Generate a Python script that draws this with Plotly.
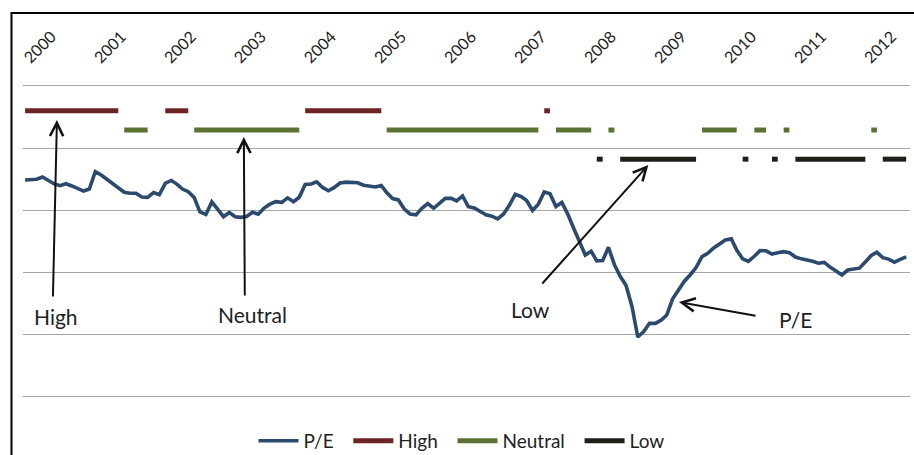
import pandas as pd
import plotly.graph_objects as go

# palette
PE_BLUE = "#2c4a6e"
HIGH_RED = "#6b2324"
NEUTRAL_GREEN = "#5a7233"
LOW_BLACK = "#1f1f17"
GRID = "#a6a6a6"
INK = "#222222"

FONT = dict(family="Lato, 'Open Sans', sans-serif", color=INK)

START = "2000-01-01"

# monthly P/E, Jan 2000 .. Aug 2012
PE = [
    17.42, 17.46, 17.48, 17.66, 17.38, 17.10, 16.96, 17.12, 16.94, 16.72, 16.53, 16.69,
    18.09, 17.82, 17.50, 17.20, 16.77, 16.43, 16.35, 16.35, 16.05, 16.01, 16.40, 16.23,
    17.15, 17.38, 17.11, 16.69, 16.48, 16.01, 14.84, 14.64, 15.65, 15.06, 14.46, 14.80,
    14.46, 14.41, 14.48, 14.82, 14.66, 15.16, 15.47, 15.67, 15.62, 15.98, 15.67, 16.03,
    17.06, 17.10, 17.28, 16.82, 16.55, 16.82, 17.18, 17.25, 17.20, 17.20, 17.00, 16.90,
    16.86, 16.98, 16.41, 15.92, 15.81, 15.08, 14.68, 14.61, 15.14, 15.52, 15.14, 15.53,
    15.94, 15.94, 15.73, 16.13, 15.27, 15.16, 14.86, 14.61, 14.50, 14.29, 14.68, 15.38,
    16.27, 16.08, 15.76, 14.96, 15.46, 16.46, 16.31, 15.28, 15.61, 14.69, 13.55, 12.44,
    11.37, 11.67, 10.89, 10.93, 11.99, 10.59, 9.65, 8.91, 7.20, 4.76, 5.19, 5.86,
    5.86, 6.13, 6.53, 7.84, 8.55, 9.26, 9.76, 10.36, 11.24, 11.51, 11.94, 12.30,
    12.58, 12.67, 11.77, 11.06, 10.86, 11.27, 11.72, 11.71, 11.45, 11.55, 11.64, 11.56,
    11.21, 11.06, 10.98, 10.86, 10.71, 10.77, 10.40, 10.07, 9.76, 10.16, 10.22, 10.31,
    10.81, 11.33, 11.59, 11.16, 11.04, 10.79, 11.02, 11.22,
]

# valuation regimes, drawn as flat bands at their own level
HIGH_LEVEL = 23.0
NEUTRAL_LEVEL = 21.45
LOW_LEVEL = 19.1

HIGH_PERIODS = [
    ("2000-01", "2001-05"), ("2002-01", "2002-05"), ("2004-01", "2005-02"),
    ("2007-06", "2007-07"),
]
NEUTRAL_PERIODS = [
    ("2001-06", "2001-10"), ("2002-06", "2003-12"), ("2005-03", "2007-05"),
    ("2007-08", "2008-02"), ("2008-05", "2008-06"), ("2009-09", "2010-03"),
    ("2010-06", "2010-08"), ("2010-11", "2010-12"), ("2012-02", "2012-03"),
]
LOW_PERIODS = [
    ("2008-03", "2008-04"), ("2008-07", "2009-08"), ("2010-04", "2010-05"),
    ("2010-09", "2010-10"), ("2011-01", "2012-01"), ("2012-04", "2012-08"),
]

YEARS = [str(y) for y in range(2000, 2013)]

dates = pd.date_range(START, periods=len(PE), freq="MS")


def regime_series(periods, level):
    out = [None] * len(dates)
    for a, b in periods:
        lo, hi = pd.Timestamp(a + "-01"), pd.Timestamp(b + "-01")
        for i, d in enumerate(dates):
            if lo <= d <= hi:
                out[i] = level
    return out


PAD = "\u00a0\u00a0"  # a little extra room between legend entries, like Excel

fig = go.Figure()
fig.add_trace(go.Scatter(x=dates, y=PE, mode="lines", name="P/E" + PAD,
                         line=dict(color=PE_BLUE, width=3.6)))
for name, periods, level, color in [
    ("High", HIGH_PERIODS, HIGH_LEVEL, HIGH_RED),
    ("Neutral", NEUTRAL_PERIODS, NEUTRAL_LEVEL, NEUTRAL_GREEN),
    ("Low", LOW_PERIODS, LOW_LEVEL, LOW_BLACK),
]:
    fig.add_trace(go.Scatter(x=dates, y=regime_series(periods, level), mode="lines",
                             name=name + PAD, connectgaps=False,
                             line=dict(color=color, width=5)))

# callouts: (label, tip, tail, text position)
CALLOUTS = [
    ("High", ("2000-06-15", 22.26), ("2000-05-25", 7.9), ("2000-06-10", 6.45)),
    ("Neutral", ("2003-02-15", 20.89), ("2003-02-20", 7.98), ("2003-04-03", 6.61)),
    ("Low", ("2008-11-25", 18.63), ("2007-05-15", 8.95), ("2007-03-22", 6.94)),
    ("P/E", ("2009-05-04", 7.58), ("2010-06-15", 6.45), ("2011-01-01", 6.13)),
]
for label, tip, tail, pos in CALLOUTS:
    fig.add_annotation(x=tip[0], y=tip[1], ax=tail[0], ay=tail[1],
                       xref="x", yref="y", axref="x", ayref="y", text="",
                       showarrow=True, arrowhead=5, arrowsize=1.3, arrowwidth=2,
                       arrowcolor="#111111", standoff=0, startstandoff=0)
    fig.add_annotation(x=pos[0], y=pos[1], xref="x", yref="y", text=label,
                       showarrow=False, font=dict(size=21, color=INK))

# chart frame (left and top edges visible in the reference)
fig.add_shape(type="path", xref="paper", yref="paper",
              path="M -0.013,-0.3 L -0.013,1.2355 L 1.01,1.2355",
              line=dict(color="#000000", width=2))

fig.update_layout(
    width=914, height=455,
    paper_bgcolor="white", plot_bgcolor="white",
    font=FONT,
    margin=dict(l=23, r=4, t=86, b=59, autoexpand=False),
    showlegend=True,
    legend=dict(orientation="h", xanchor="center", x=0.5, yanchor="middle", y=-0.145,
                font=dict(size=19), itemwidth=40, tracegroupgap=0),
    xaxis=dict(type="date", side="top", range=["1999-12-21", "2012-08-21"],
               tickvals=[y + "-01-01" for y in YEARS], ticktext=YEARS,
               tickangle=-45, tickfont=dict(size=16, color=INK), automargin=False,
               showgrid=False, showline=True, linecolor=GRID, linewidth=1,
               ticks="outside", ticklen=12, tickcolor="rgba(0,0,0,0)"),
    yaxis=dict(range=[0, 25], dtick=5, showticklabels=False, showgrid=True,
               gridcolor=GRID, gridwidth=1, zeroline=True, zerolinecolor=GRID,
               zerolinewidth=1, showline=False, automargin=False),
)

# the page's default body margin would push the figure off the 914x455 window
fig.write_html("out.html", config={"displayModeBar": False},
               post_script="document.body.style.margin='0';")
